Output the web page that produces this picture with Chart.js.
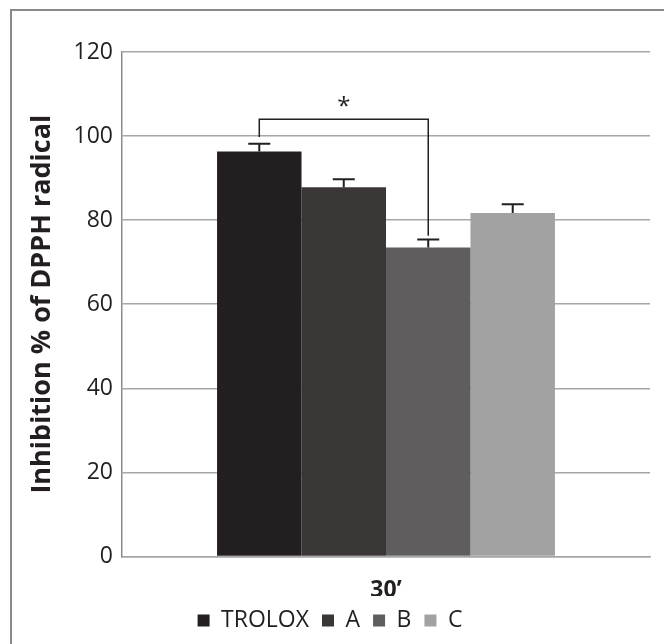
<!DOCTYPE html>
<html>
<head>
<meta charset="utf-8">
<script src="https://cdn.jsdelivr.net/npm/chart.js@4.4.0/dist/chart.umd.min.js"></script>
<style>
body { margin: 0; background: #fff; overflow: hidden; }
#frame { position: absolute; left: 10px; top: 9px; width: 700px; height: 700px; border-left: 2px solid #8a8a8a; border-top: 2px solid #8a8a8a; }
#wrap { position: absolute; left: 0; top: 0; width: 664px; height: 644px; }
</style>
</head>
<body>
<div id="frame"></div>
<div id="wrap"><canvas id="bars" width="664" height="644"></canvas></div>
<script>
var timePoints = ["30\u2019"];
var seriesNames = ["TROLOX", "A", "B", "C"];
var seriesValues = [96.3, 87.8, 73.5, 81.7];
var seriesErrors = [1.9, 1.9, 1.9, 2.1];
var seriesColors = ["#231f20", "#3a3635", "#5f5d5e", "#a3a2a2"];
var yTicks = [0, 20, 40, 60, 80, 100, 120];
var sigPair = [0, 2];   // TROLOX vs B
var sigLevel = 104;
var sigMark = "*";

var ink = "#231f20";

// error bars + significance bracket
var extras = {
    id: "extras",
    afterDatasetsDraw: function (chart) {
        var c = chart.ctx;
        var y = chart.scales.y;
        var xs = [];
        c.save();
        c.strokeStyle = ink;
        c.lineWidth = 2;
        for (var i = 0; i < seriesValues.length; i++) {
            var bar = chart.getDatasetMeta(i).data[0];
            xs.push(bar.x);
            var top = y.getPixelForValue(seriesValues[i] + seriesErrors[i]);
            c.beginPath();
            c.moveTo(bar.x, y.getPixelForValue(seriesValues[i]));
            c.lineTo(bar.x, top);
            c.moveTo(bar.x - 11, top);
            c.lineTo(bar.x + 11, top);
            c.stroke();
        }
        var a = sigPair[0], b = sigPair[1];
        var yl = y.getPixelForValue(sigLevel);
        c.lineWidth = 1.5;
        c.beginPath();
        c.moveTo(xs[a], y.getPixelForValue(seriesValues[a] + seriesErrors[a] + 1.6));
        c.lineTo(xs[a], yl);
        c.lineTo(xs[b], yl);
        c.lineTo(xs[b], y.getPixelForValue(seriesValues[b] + seriesErrors[b] + 0.9));
        c.stroke();
        c.fillStyle = ink;
        c.font = "24px 'Open Sans'";
        c.textAlign = "center";
        c.textBaseline = "middle";
        c.fillText(sigMark, (xs[a] + xs[b]) / 2, yl - 12);
        c.restore();
    }
};

var datasets = seriesNames.map(function (n, i) {
    return {
        label: n,
        data: [seriesValues[i]],
        backgroundColor: seriesColors[i],
        categoryPercentage: 0.64,
        barPercentage: 1
    };
});

var myChart = new Chart(document.getElementById("bars"), {
    type: "bar",
    data: { labels: timePoints, datasets: datasets },
    plugins: [extras],
    options: {
        responsive: false,
        animation: false,
        layout: { padding: { left: 10, right: 14, top: 52, bottom: 2 } },
        plugins: {
            tooltip: { enabled: false },
            legend: {
                position: "bottom",
                labels: {
                    color: ink,
                    font: { family: "Open Sans", size: 23 },
                    boxWidth: 12,
                    boxHeight: 12,
                    padding: 13
                }
            }
        },
        scales: {
            x: {
                afterFit: function (s) { s.height -= 20; },
                grid: { display: false },
                border: { color: "#a6a6a6", width: 1.5 },
                ticks: { color: ink, font: { family: "Open Sans", size: 23, weight: "bold" }, padding: 12 }
            },
            y: {
                min: 0,
                max: 120,
                afterBuildTicks: function (s) { s.ticks = yTicks.map(function (v) { return { value: v }; }); },
                afterFit: function (s) { s.width = 112; },
                grid: { color: "#a6a6a6", lineWidth: 1.5, drawTicks: false },
                border: { color: "#8c8c8c", width: 1.5 },
                ticks: { color: ink, font: { family: "Open Sans", size: 23 }, padding: 9 },
                title: {
                    display: true,
                    text: "Inhibition % of DPPH radical",
                    color: ink,
                    font: { family: "Open Sans", size: 27, weight: "bold" },
                    padding: { top: 16, bottom: 0 }
                }
            }
        }
    }
});
</script>
</body>
</html>
